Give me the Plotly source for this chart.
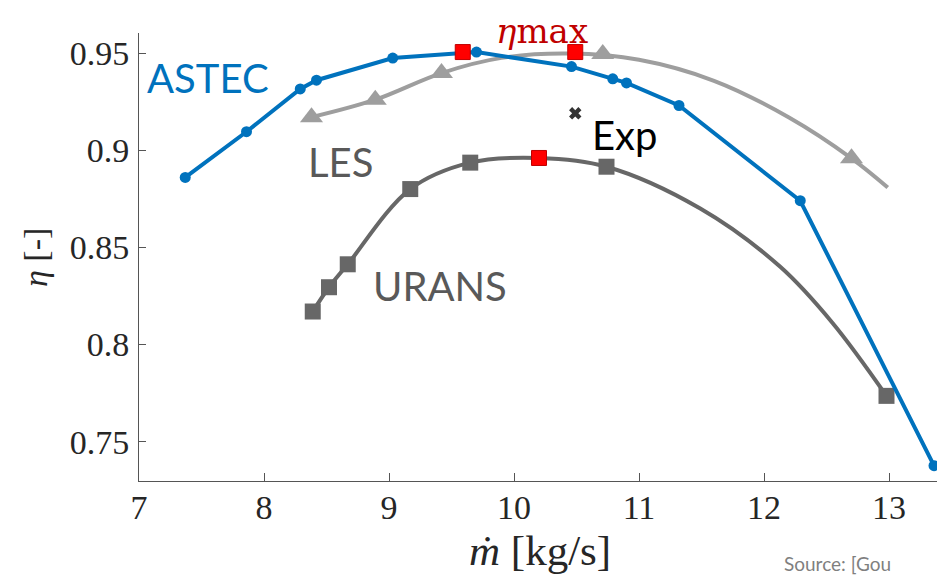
import plotly.graph_objects as go

# ---------------- data ----------------
astec_x = [7.37, 7.86, 8.29, 8.42, 9.03, 9.70, 10.46, 10.79, 10.90, 11.32, 12.29, 13.36]
astec_y = [0.886, 0.9095, 0.9315, 0.936, 0.9474, 0.9505, 0.943, 0.9367, 0.9346, 0.923, 0.874, 0.7377]

les_curve_x = [8.38, 8.89, 9.42, 9.9, 10.45, 11.0, 11.6, 12.2, 12.70, 12.99]
les_curve_y = [0.917, 0.926, 0.9397, 0.9475, 0.9497, 0.9465, 0.9357, 0.9168, 0.8958, 0.8808]
les_mark_x = [8.38, 8.89, 9.42, 10.71, 12.70]
les_mark_y = [0.917, 0.926, 0.9397, 0.9495, 0.8958]

urans_curve_x = [8.39, 8.52, 8.67, 9.17, 9.65, 10.2, 10.74, 11.49, 12.13, 12.55, 12.98]
urans_curve_y = [0.817, 0.8295, 0.8413, 0.880, 0.8936, 0.896, 0.8915, 0.870, 0.840, 0.811, 0.7736]
urans_mark_x = [8.39, 8.52, 8.67, 9.17, 9.65, 10.74, 12.98]
urans_mark_y = [0.817, 0.8295, 0.8413, 0.880, 0.8936, 0.8915, 0.7736]

etamax_x = [9.59, 10.49, 10.20]
etamax_y = [0.9505, 0.9505, 0.896]

exp_x = [10.49]
exp_y = [0.919]

x_ticks = [7, 8, 9, 10, 11, 12, 13]
y_ticks = [0.75, 0.8, 0.85, 0.9, 0.95]
y_tick_text = ["0.75", "0.8", "0.85", "0.9", "0.95"]

BLUE = "#0072BD"
LIGHT = "#9E9E9E"
DARK = "#676767"
TXTGRAY = "#595959"

# layout geometry (the page body adds an 8px offset)
L, T, B, R = 131, 25, 107, 0
PW = 945 - L - R      # plot width in px
PH = 580 - T - B      # plot height in px


def px_x(X):
    return (X - 139) / PW


def px_y(Y):
    return (481 - Y) / PH


fig = go.Figure()

fig.add_trace(go.Scatter(x=les_curve_x, y=les_curve_y, mode="lines",
                         line=dict(color=LIGHT, width=4, shape="spline", smoothing=1.0),
                         hoverinfo="skip"))
fig.add_trace(go.Scatter(x=les_mark_x, y=les_mark_y, mode="markers",
                         marker=dict(symbol="triangle-up", size=20, color=LIGHT,
                                     line=dict(width=0))))

fig.add_trace(go.Scatter(x=urans_curve_x, y=urans_curve_y, mode="lines",
                         line=dict(color=DARK, width=4, shape="spline", smoothing=1.0),
                         hoverinfo="skip"))
fig.add_trace(go.Scatter(x=urans_mark_x, y=urans_mark_y, mode="markers",
                         marker=dict(symbol="square", size=16, color=DARK,
                                     line=dict(width=0))))

fig.add_trace(go.Scatter(x=astec_x, y=astec_y, mode="lines+markers",
                         line=dict(color=BLUE, width=4),
                         marker=dict(symbol="circle", size=11, color=BLUE)))

fig.add_trace(go.Scatter(x=etamax_x, y=etamax_y, mode="markers",
                         marker=dict(symbol="square", size=15, color="#FF0000",
                                     line=dict(color="#C00000", width=1))))

fig.add_trace(go.Scatter(x=exp_x, y=exp_y, mode="markers",
                         marker=dict(symbol="x", size=11, color="#333333",
                                     line=dict(width=0))))

label_font = "Lato, 'Open Sans', sans-serif"
serif = "'Liberation Serif', 'Times New Roman', serif"

annotations = [
    dict(x=7.55, y=0.937, text="ASTEC", font=dict(family=label_font, size=40, color=BLUE)),
    dict(x=8.61, y=0.894, text="LES", font=dict(family=label_font, size=40, color=TXTGRAY)),
    dict(x=9.41, y=0.830, text="URANS", font=dict(family=label_font, size=40, color=TXTGRAY)),
    dict(x=10.61, y=0.908, text="Exp", xanchor="left", font=dict(family=label_font, size=40, color="black")),
]
for a in annotations:
    a.setdefault("xanchor", "center")
    a.update(xref="x", yref="y", yanchor="middle", showarrow=False)

# paper-referenced texts
annotations += [
    dict(xref="paper", yref="paper", x=px_x(542), y=px_y(31),
         text="<i>η</i>max", showarrow=False, xanchor="center", yanchor="middle",
         font=dict(family="'DejaVu Serif', serif", size=34, color="#C00000")),
    dict(xref="paper", yref="paper", x=px_x(540), y=px_y(550),
         text="<i>ṁ</i> [kg/s]", showarrow=False, xanchor="center", yanchor="middle",
         font=dict(family=serif, size=43, color="#262626")),
    dict(xref="paper", yref="paper", x=px_x(36), y=px_y(258),
         text="<i>η</i> [-]", showarrow=False, xanchor="center", yanchor="middle", textangle=-90,
         font=dict(family=serif, size=34, color="#262626")),
    dict(xref="paper", yref="paper", x=px_x(782), y=px_y(577),
         text="Source: [Gou", showarrow=False, xanchor="left", yanchor="bottom",
         font=dict(family=label_font, size=19, color="#7F7F7F")),
]

fig.update_layout(
    width=945, height=580,
    margin=dict(l=L, r=R, t=T, b=B, autoexpand=False),
    plot_bgcolor="white", paper_bgcolor="white",
    showlegend=False,
    annotations=annotations,
    xaxis=dict(range=[7, 7 + PW / 125], tickvals=x_ticks, ticks="inside", ticklen=8,
               tickcolor="#555555", showline=True, linecolor="#555555", linewidth=1,
               showgrid=False, zeroline=False, automargin=False, ticklabelstandoff=-4,
               tickfont=dict(family=serif, size=34, color="#262626")),
    yaxis=dict(range=[0.7298, 0.9603], tickvals=y_ticks, ticktext=y_tick_text,
               ticks="inside", ticklen=7, tickcolor="#555555", showline=True,
               linecolor="#555555", linewidth=1, showgrid=False, zeroline=False,
               automargin=False, ticklabelstandoff=2,
               tickfont=dict(family=serif, size=34, color="#262626")),
)

fig.write_html("out.html")
